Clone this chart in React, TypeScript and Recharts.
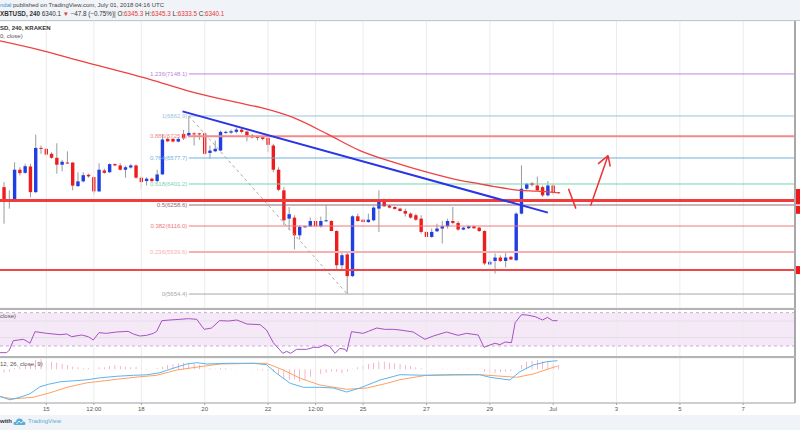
import React from "react";
import {
  ComposedChart, Bar, Line, XAxis, YAxis, CartesianGrid, ReferenceLine, ReferenceArea,
} from "recharts";

const FONT = "'Liberation Sans', Arial, sans-serif";
// svg is wider than the page, so the price scale gets cut off on the right like the screenshot
const W = 840;
const AXIS_W = 45;
const T_MIN = -8.77;
const T_MAX = 141.8;
const P_MIN = 5559.6;
const P_MAX = 7507.4;

const BLUE = "#1f3fe5";
const RED = "#ee1c1c";
const GRID = "#ececec";

// 4h candles, index 0 = Jun 15 00:00
const FIRST_T = -8;
const opens = [
  6380, 6279, 6290, 6498, 6477, 6520, 6346, 6646,
  6640, 6606, 6579, 6532, 6547, 6547, 6387, 6419, 6464, 6448,
  6351, 6493, 6481, 6536, 6527, 6498, 6513, 6527, 6444, 6421,
  6437, 6421, 6466, 6707, 6707, 6689, 6741, 6730, 6745, 6745,
  6745, 6612, 6623, 6628, 6748, 6750, 6755, 6770, 6757, 6730,
  6723, 6718, 6714, 6662, 6498, 6358, 6166, 6173, 6053, 6110,
  6114, 6150, 6114, 6148, 6150, 6082, 5850, 5923, 5776, 6182,
  6159, 6143, 6155, 6234, 6290, 6254, 6245, 6234, 6218, 6200,
  6189, 6166, 6076, 6042, 6080, 6099, 6114, 6150, 6137, 6092,
  6101, 6114, 6105, 6082, 5855, 5879, 5902, 5879, 5907, 5884,
  6200, 6369, 6407, 6391, 6380, 6324, 6391, 6345.3,
];
const highs = [
  6414, 6358, 6549, 6515, 6538, 6538, 6736, 6662,
  6646, 6617, 6678, 6565, 6623, 6547, 6481, 6481, 6471, 6453,
  6542, 6505, 6542, 6542, 6542, 6525, 6538, 6533, 6453, 6448,
  6444, 6498, 6741, 6718, 6716, 6716, 6768, 6862.9, 6752, 6748,
  6752, 6662, 6696, 6764, 6764, 6770, 6786, 6786, 6764, 6741,
  6730, 6723, 6718, 6674, 6515, 6380, 6245, 6189, 6121, 6117,
  6173, 6177, 6180, 6256, 6155, 6087, 5940, 5945, 6189, 6200,
  6166, 6200, 6250, 6358, 6302, 6259, 6250, 6241, 6234, 6209,
  6200, 6189, 6087, 6099, 6132, 6150, 6166, 6245, 6150, 6110,
  6120, 6120, 6110, 6087, 5885, 5930, 5917, 5940, 5912, 6210,
  6527, 6407, 6414, 6452, 6391, 6421, 6400, 6345.3,
];
const lows = [
  6132, 6234, 6279, 6459, 6470, 6312, 6339, 6606,
  6592, 6572, 6471, 6488, 6538, 6358, 6380, 6412, 6444, 6331,
  6346, 6471, 6475, 6522, 6493, 6444, 6505, 6437, 6369, 6391,
  6414, 6414, 6466, 6684, 6684, 6684, 6700, 6718, 6662, 6700,
  6601, 6572, 6617, 6623, 6741, 6741, 6745, 6745, 6691, 6711,
  6696, 6696, 6617, 6481, 6353, 6121, 6087, 5957, 6024, 6105,
  6110, 6105, 6105, 6146, 6082, 5817, 5812, 5654.4, 5770, 6146,
  6140, 6137, 6148, 6076, 6245, 6236, 6227, 6214, 6180, 6166,
  6150, 6065, 6040, 6036, 6076, 5997, 6099, 6128, 6085, 6087,
  6095, 6095, 6075, 5851, 5849, 5794, 5872, 5835, 5885, 5878,
  6195, 6362, 6385, 6353, 6313, 6317, 6330, 6333.5,
];
const closes = [
  6283, 6290, 6498, 6475, 6522, 6346, 6646, 6640,
  6601, 6579, 6532, 6552, 6542, 6390, 6419, 6461, 6453, 6351,
  6498, 6477, 6536, 6527, 6498, 6515, 6527, 6444, 6414, 6437,
  6421, 6466, 6703, 6691, 6689, 6707, 6711, 6748, 6738, 6738,
  6606, 6628, 6640, 6755, 6755, 6759, 6770, 6755, 6730, 6718,
  6714, 6707, 6667, 6498, 6362, 6155, 6196, 6053, 6110, 6114,
  6150, 6114, 6150, 6155, 6082, 5850, 5918, 5776, 6182, 6150,
  6143, 6159, 6241, 6290, 6250, 6241, 6232, 6218, 6200, 6173,
  6159, 6076, 6042, 6076, 6099, 6114, 6150, 6137, 6092, 6105,
  6114, 6101, 6082, 5862, 5873, 5902, 5879, 5902, 5889, 6200,
  6369, 6403, 6394, 6358, 6324, 6391, 6345, 6340.1,
];

// MA(200)
const maT = [-8.77, -0.6, 6.4, 19.6, 26.8, 36.1, 40.5, 46.7, 53.2, 59.4, 65.7, 72.1, 78.4, 82.1, 84.6, 89.7, 92.9, 96.7];
const maV = [7372, 7305, 7237, 7112, 7034, 6955, 6921, 6853, 6741, 6628, 6549, 6481, 6425, 6402, 6385, 6358, 6353, 6342];

// RSI(14)
const rsiT = [
  -8.77, -7.5, -7.0, -6.25, -5.3, -4.36, -3.84, -3.09, -2.14, 0.08, 2.6, 3.86, 4.81, 6.7, 7.95, 8.9,
  9.98, 11.4, 13.3, 15.5, 16.5, 17.7, 19.0, 20.3, 20.9, 21.9, 23.4, 25.3, 26.9, 28.5, 29.9, 31.3,
  32.8, 34.5, 36.1, 38.0, 40.5, 41.7, 43.0, 44.8, 45.5, 46.3, 47.4, 49.3, 50.6, 51.7, 52.8, 53.7,
  54.7, 55.6, 56.6, 56.9, 57.8, 60.0, 61.0, 62.6, 64.1, 65.7, 67.0, 69.5, 71.7, 73.3, 75.8, 78.0,
  79.6, 81.8, 82.9, 84.0, 85.0, 85.9, 86.9, 88.1, 88.8, 90.0, 91.0, 92.6, 94.0, 94.9, 95.9, 96.8,
];
const rsiV = [
  22, 22, 25.2, 36.4, 37.2, 38, 36.4, 33.3, 47.2, 45.2, 43.6, 44.4, 41.2, 43.2, 41.2, 37.2,
  46, 45.2, 46.8, 47.6, 44.4, 42, 42.8, 45.2, 47.6, 60.4, 61.2, 62, 62.8, 62, 50, 51.6,
  60.4, 60, 61.2, 56.4, 55.6, 49.2, 34, 21.2, 23.6, 21.2, 26, 26, 28.4, 28.4, 31.6, 29.2,
  21.2, 27.2, 26, 23.2, 47.2, 45.2, 47.6, 51.6, 50, 50, 49.2, 46.8, 38, 42, 46.8, 42.8,
  45.2, 43.2, 28.4, 31.2, 33.3, 31.6, 34.8, 34, 58, 67.6, 67.2, 65.2, 61.2, 64.4, 60.4, 60.4,
];

// MACD(12, 26, close, 9)
const macdT = [
  -8.77, -6.9, -5.0, -3.1, -1.2, 0.4, 2.6, 5.1, 7.7, 10.2, 13.3, 16.5, 19.0, 21.5, 22.8, 26.6, 28.5,
  30.4, 34.2, 39.2, 41.7, 43.6, 46.2, 48.7, 51.8, 54.4, 56.9, 59.4, 63.2, 67.0, 72.0, 77.1, 82.1,
  84.0, 87.8, 89.7, 92.2, 94.8, 96.8,
];
const macdV = [
  -54, -61, -56, -49, -35, -30, -25, -23, -21, -17, -14, -12, -11, -7, -2, 10.6, 13.2,
  10.6, 12, 12, 9.2, -8, -28, -36, -36, -37.4, -45.4, -37.4, -21.4, -10.8, -12, -10.8, -10.8,
  -16, -21.4, -4.8, 8.6, 15.2, 17.2,
];
const sigT = [
  -8.77, -6.25, -2.5, 0.7, 3.9, 7.7, 10.2, 13.3, 17.7, 20.9, 24.7, 29.1, 32.9, 39.2, 41.7, 44.9,
  48.1, 51.8, 56.9, 60.7, 64.5, 67.0, 72.0, 82.1, 89.1, 92.2, 96.8,
];
const sigV = [
  -55, -59, -56, -47, -36, -27, -24, -20, -15, -12, -1.4, 5.2, 10.6, 12, 12, -1.4,
  -18, -31.4, -40, -37.4, -28, -20.7, -12, -10.8, -16, -9.4, 6.6,
];
const histV = [
  -6.7, -4.7, 2, 5, 8, 10, 18.6, 20,
  17.3, 15.3, 13.3, 10.6, 8.6, 5.3, 4, 2, 2, 1.3,
  4, 4, 6.6, 8.6, 6.6, 5.3, 4, 5.3, 4, 1.3,
  0.3, 2, 5.3, 8.6, 10, 12, 13.3, 12, 10.6, 8.6,
  5.3, 2, 1.3, 2.6, 2, 1.3, 0.6, 0.6, 0.2, -0.6,
  -1.3, -2.6, -3.3, -4.7, -11.3, -20, -21.3, -20, -24.7, -21.3,
  -14.7, -11.3, -9.3, -6.7, -4.7, -4.7, -8, -4.7, 1.3, 4,
  6.6, 10.6, 13.3, 15.3, 15.3, 13.3, 12, 10.6, 8, 6.6,
  4, 2, 0.6, 0.6, 0.6, 1.3, 0.6, 0.6, 1.3, 0.6,
  1.3, 0.6, -0.6, -4.7, -6.7, -6.7, -5.3, -4.7, -3.3, -0.6,
  8.6, 15.3, 17.3, 18.6, 16.6, 15.3, 10.6, 8.6,
];

const dayTicks = [0, 9, 18, 30, 42, 51, 60, 72, 84, 96, 108, 120, 132];
const dayLabels = ["15", "12:00", "18", "20", "22", "12:00", "25", "27", "29", "Jul", "3", "5", "7"];
const priceTicks = [5600, 5700, 5800, 5900, 6000, 6100, 6200, 6300, 6400, 6500, 6600, 6700, 6800, 6900, 7000, 7100, 7200, 7300, 7400, 7500];

// Fibonacci retracement drawn from the Jun 19 high to the Jun 24 low
const FIB_START = 27;
const fibPrices = [7148.1, 6862.9, 6725.1, 6577.7, 6401.2, 6258.6, 6116.0, 5939.6, 5654.4];
const fibLabels = ["1.236(7148.1)", "1(6862.9)", "0.886(6725.1)", "0.764(6577.7)", "0.618(6401.2)", "0.5(6258.6)", "0.382(6116.0)", "0.236(5939.6)", "0(5654.4)"];
const fibColors = ["#bb86e0", "#9cc3dd", "#f28a8a", "#6fb1dc", "#76d3b0", "#8d6c7c", "#f07878", "#f6b0b0", "#a8a8a8"];

const candles = opens.map((o, i) => ({
  t: FIRST_T + i, o, h: highs[i], l: lows[i], c: closes[i], range: [lows[i], highs[i]],
}));
const maPts = maT.map((t, i) => ({ t, v: maV[i] }));
const rsiPts = rsiT.map((t, i) => ({ t, v: rsiV[i] }));
const macdPts = macdT.map((t, i) => ({ t, v: macdV[i] }));
const sigPts = sigT.map((t, i) => ({ t, v: sigV[i] }));
const histPts = histV.map((v, i) => ({ t: FIRST_T + i, v }));

function Candle(props: any) {
  const { x, y, width, height, payload } = props;
  if (!payload || x == null) return null;
  const { o, h, l, c } = payload;
  const top = height < 0 ? y + height : y;
  const hh = Math.abs(height);
  const cx = x + width / 2;
  const span = h - l || 1;
  const yo = top + ((h - o) / span) * hh;
  const yc = top + ((h - c) / span) * hh;
  const bTop = Math.min(yo, yc);
  const bH = Math.max(1, Math.abs(yc - yo));
  return (
    <g>
      <line x1={cx} x2={cx} y1={top} y2={top + hh} stroke="#9a9a9a" strokeWidth={1} />
      <rect x={cx - 1.7} y={bTop} width={3.4} height={bH} fill={c >= o ? BLUE : RED} />
    </g>
  );
}

function FibLabel({ viewBox, text, color }: any) {
  if (!viewBox) return null;
  return (
    <text x={viewBox.x - 1.5} y={viewBox.y + 2} textAnchor="end" fontSize={6} fontFamily={FONT} fill={color}>
      {text}
    </text>
  );
}

// price scale is cropped in the screenshot: only the left edge of each red price tag shows
function PriceTag({ viewBox, color }: any) {
  if (!viewBox) return null;
  return <rect x={viewBox.x + viewBox.width + 1} y={viewBox.y - 4} width={40} height={8} fill={color} />;
}

function SmallText({ top, left = 0, color = "#555", children, weight = 400, size = 6 }: any) {
  return (
    <div style={{ position: "absolute", top, left, fontSize: size, lineHeight: "7px", color, fontWeight: weight, whiteSpace: "nowrap", fontFamily: FONT }}>
      {children}
    </div>
  );
}

const xAxisHidden = <XAxis type="number" dataKey="t" domain={[T_MIN, T_MAX]} hide allowDataOverflow />;
const vGrid = dayTicks.map((t) => <ReferenceLine key={"v" + t} x={t} stroke={GRID} />);
const yAxisProps = {
  orientation: "right" as const, width: AXIS_W, allowDataOverflow: true,
  axisLine: { stroke: "#a8a8a8", strokeWidth: 2 }, tickLine: { stroke: "#a8a8a8" }, tickSize: 4, tick: false,
};

export default function App() {
  const red = { color: "#e53935" };
  return (
    <div style={{ position: "fixed", top: 0, left: 0, width: 800, height: 430, overflow: "hidden", background: "#fff", fontFamily: FONT }}>
      {/* header */}
      <div style={{ position: "absolute", top: 0, left: 0, width: 800, height: 20, background: "#f0f3f7", borderBottom: "1px solid #c4c7cc" }} />
      <SmallText top={2} color="#444">
        <span style={{ color: "#3d8fdb" }}>ndal</span> published on TradingView.com, July 01, 2018 04:16 UTC
      </SmallText>
      <SmallText top={10} color="#333" size={6.3}>
        <b>XBTUSD, 240</b> 6340.1 <span style={red}>▼</span> −47.8 (−0.75%)| O:<span style={red}>6345.3</span> H:<span style={red}>6345.3</span> L:<span style={red}>6333.5</span> C:<span style={red}>6340.1</span>
      </SmallText>

      {/* price pane */}
      <div style={{ position: "absolute", top: 21, left: 0 }}>
        <ComposedChart width={W} height={287} data={candles} margin={{ top: 0, right: 0, bottom: 0, left: 0 }}>
          <CartesianGrid stroke={GRID} vertical={false} />
          {xAxisHidden}
          <YAxis {...yAxisProps} domain={[P_MIN, P_MAX]} ticks={priceTicks} />
          {vGrid}
          {fibPrices.map((p, i) => (
            <ReferenceLine key={"f" + i} segment={[{ x: FIB_START, y: p }, { x: T_MAX, y: p }]}
              stroke={fibColors[i]} strokeWidth={i === 2 || i === 7 ? 2 : 1} ifOverflow="visible"
              label={<FibLabel text={fibLabels[i]} color={fibColors[i]} />} />
          ))}
          <ReferenceLine segment={[{ x: 27, y: 6862.9 }, { x: 57, y: 5654.4 }]} stroke="#a8a8a8" strokeDasharray="3 3" ifOverflow="visible" />
          <ReferenceLine y={6290} stroke="#f23c3c" strokeWidth={3} label={<PriceTag color="#f01818" />} />
          <ReferenceLine y={5817} stroke="#f04848" strokeWidth={2} label={<PriceTag color="#f01818" />} />
          <ReferenceLine y={6340.1} stroke="none" label={<PriceTag color="#f01818" />} />
          <ReferenceLine y={6226} stroke="none" label={<PriceTag color="#f01818" />} />
          <Bar dataKey="range" shape={<Candle />} barSize={4} isAnimationActive={false} />
          <Line data={maPts} dataKey="v" type="monotone" stroke="#f04040" strokeWidth={1.3} dot={false} isAnimationActive={false} />
          <ReferenceLine segment={[{ x: 25.8, y: 6894 }, { x: 95.0, y: 6207 }]} stroke="#2a35e6" strokeWidth={2} ifOverflow="visible" />
          <ReferenceLine segment={[{ x: 98.9, y: 6369 }, { x: 100.3, y: 6234 }]} stroke="#f03030" strokeWidth={1.5} ifOverflow="visible" />
          <ReferenceLine segment={[{ x: 103.1, y: 6256 }, { x: 106.4, y: 6594 }]} stroke="#f03030" strokeWidth={1.5} ifOverflow="visible" />
          <ReferenceLine segment={[{ x: 104.5, y: 6538 }, { x: 106.4, y: 6594 }]} stroke="#f03030" strokeWidth={1.5} ifOverflow="visible" />
          <ReferenceLine segment={[{ x: 106.8, y: 6520 }, { x: 106.4, y: 6594 }]} stroke="#f03030" strokeWidth={1.5} ifOverflow="visible" />
        </ComposedChart>
      </div>
      <SmallText top={25} color="#333" weight={700}>SD, 240, KRAKEN</SmallText>
      <SmallText top={33} color="#555">0, close)</SmallText>

      <div style={{ position: "absolute", top: 308, left: 0, width: 796, height: 2, background: "#b4b4b4" }} />

      {/* RSI pane */}
      <div style={{ position: "absolute", top: 310, left: 0 }}>
        <ComposedChart width={W} height={46} data={rsiPts} margin={{ top: 0, right: 0, bottom: 0, left: 0 }}>
          {xAxisHidden}
          <YAxis {...yAxisProps} domain={[18, 73.2]} ticks={[30, 40, 60, 70]} />
          <ReferenceArea y1={30} y2={70} fill="#9c27b0" fillOpacity={0.1} stroke="none" />
          {vGrid}
          <ReferenceLine y={40} stroke="#e4dcea" />
          <ReferenceLine y={60} stroke="#e4dcea" />
          <ReferenceLine y={30} stroke="#c9a9d9" strokeDasharray="3 3" />
          <ReferenceLine y={70} stroke="#c9a9d9" strokeDasharray="3 3" />
          <Line dataKey="v" type="linear" stroke="#a552c4" strokeWidth={1} dot={false} isAnimationActive={false} />
        </ComposedChart>
      </div>
      <SmallText top={313} color="#555">close)</SmallText>

      <div style={{ position: "absolute", top: 356, left: 0, width: 796, height: 2, background: "#b4b4b4" }} />

      {/* MACD pane + time scale */}
      <div style={{ position: "absolute", top: 358, left: 0 }}>
        <ComposedChart width={W} height={57} data={histPts} margin={{ top: 0, right: 0, bottom: 0, left: 0 }}>
          <XAxis type="number" dataKey="t" domain={[T_MIN, T_MAX]} allowDataOverflow ticks={dayTicks} interval={0}
            height={12} tickSize={2} axisLine={{ stroke: "#a8a8a8" }} tickLine={{ stroke: "#a8a8a8" }}
            tick={{ fontSize: 6, fill: "#555", fontFamily: FONT }}
            tickFormatter={(v: number) => dayLabels[dayTicks.indexOf(v)] ?? ""} />
          <YAxis {...yAxisProps} domain={[-67.4, 22.6]} ticks={[-50, 0]} />
          <CartesianGrid stroke={GRID} vertical={false} />
          {vGrid}
          <Bar dataKey="v" fill="#f06292" barSize={1.5} isAnimationActive={false} />
          <Line data={sigPts} dataKey="v" type="linear" stroke="#ffa060" strokeWidth={1} dot={false} isAnimationActive={false} />
          <Line data={macdPts} dataKey="v" type="linear" stroke="#5ab4f0" strokeWidth={1} dot={false} isAnimationActive={false} />
        </ComposedChart>
      </div>
      <SmallText top={361} color="#555">12, 26, close, 9)</SmallText>

      {/* footer */}
      <div style={{ position: "absolute", top: 415, left: 0, width: 800, height: 15, background: "#f0f3f7" }} />
      <SmallText top={418} color="#333" weight={700}>with</SmallText>
      <svg style={{ position: "absolute", top: 417, left: 13 }} width={13} height={9}>
        <path d="M2 8 Q0 8 0.5 6 Q1 4.5 3 4.8 Q3.5 1.5 6.5 1.5 Q9.5 1.5 10 4.5 Q12.5 4.6 12.5 6.5 Q12.5 8 11 8 Z" fill="#5badd6" />
        <path d="M3.5 7 L6 4 L8 6 L10 4.5" stroke="#fff" strokeWidth={0.8} fill="none" />
      </svg>
      <SmallText top={418} left={28} color="#5badd6">TradingView</SmallText>
    </div>
  );
}
